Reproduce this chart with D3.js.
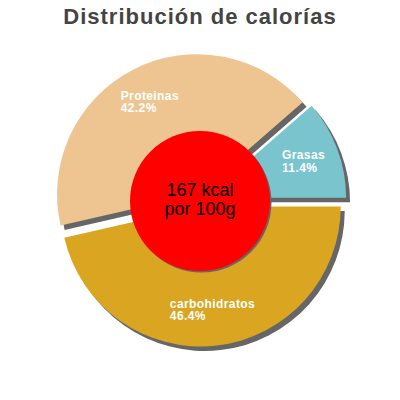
<!DOCTYPE html>
<html>
<head>
<meta charset="utf-8">
<script src="https://cdn.jsdelivr.net/npm/d3@7"></script>
<style>
    body { margin: 0; background: #fff; }
    svg { display: block; }
    text { font-family: "Liberation Sans", Arial, sans-serif; }
</style>
</head>
<body>
<svg id="chart" width="400" height="400"></svg>
<script>
// calorie split
var categories = ["carbohidratos", "Proteinas", "Grasas"];
var percents = [46.4, 42.2, 11.4];
var colors = ["#daa520", "#eec591", "#7ac5cd"];
var totalKcal = 167;
var title = "Distribución de calorías";

var svg = d3.select("#chart");
var cx = 200, cy = 200, radius = 140;
var explode = 6.5;

svg.append("text")
    .attr("x", 200)
    .attr("y", 24)
    .attr("text-anchor", "middle")
    .style("font-size", "22px")
    .style("font-weight", "bold")
    .style("letter-spacing", "1px")
    .style("fill", "#444")
    .text(title);

var slices = categories.map(function (c, i) {
    return { name: c, value: percents[i], color: colors[i] };
});

// starts at 3 o'clock and goes clockwise, like the original
var pie = d3.pie()
    .sort(null)
    .value(function (d) { return d.value; })
    .startAngle(Math.PI / 2)
    .endAngle(Math.PI / 2 + 2 * Math.PI);

var arc = d3.arc().innerRadius(0).outerRadius(radius);
var labelArc = d3.arc().innerRadius(104).outerRadius(104);

var arcs = pie(slices);

function offset(d) {
    let a = (d.startAngle + d.endAngle) / 2;
    return [cx + explode * Math.sin(a), cy - explode * Math.cos(a)];
}

var g = svg.append("g");

// shadows go under every slice
g.selectAll("path.shadow")
    .data(arcs)
    .enter().append("path")
    .attr("class", "shadow")
    .attr("d", arc)
    .attr("transform", function (d) {
        let p = offset(d);
        return "translate(" + (p[0] + 4) + "," + (p[1] + 4.5) + ")";
    })
    .style("fill", "#666");

g.selectAll("path.slice")
    .data(arcs)
    .enter().append("path")
    .attr("class", "slice")
    .attr("d", arc)
    .attr("transform", function (d) {
        let p = offset(d);
        return "translate(" + p[0] + "," + p[1] + ")";
    })
    .style("fill", function (d) { return d.data.color; });

// labels: two left-aligned lines, block centred on the centroid
arcs.forEach(function (d) {
    let p = offset(d);
    let c = labelArc.centroid(d);
    let lbl = g.append("text")
        .attr("transform", "translate(" + (p[0] + c[0]) + "," + (p[1] + c[1]) + ")")
        .style("font-size", "12px")
        .style("font-weight", "bold")
        .style("letter-spacing", "0.4px")
        .style("fill", "#fff");
    lbl.append("tspan").attr("x", 0).attr("y", -2).text(d.data.name);
    lbl.append("tspan").attr("x", 0).attr("y", 10.5).text(d.data.value.toFixed(1) + "%");
    let w = lbl.node().getBBox().width;
    lbl.selectAll("tspan").attr("x", -w / 2);
});

// centre disc
svg.append("circle")
    .attr("cx", cx + 1.5)
    .attr("cy", cy + 2.5)
    .attr("r", 70)
    .style("fill", "#666");
svg.append("circle")
    .attr("cx", cx)
    .attr("cy", cy + 1)
    .attr("r", 70)
    .style("fill", "#ff0000");

var center = svg.append("text")
    .attr("text-anchor", "middle")
    .style("font-size", "18px")
    .style("fill", "#000");
center.append("tspan").attr("x", cx).attr("y", 195.5).text(totalKcal + " kcal");
center.append("tspan").attr("x", cx).attr("y", 214.5).text("por 100g");
</script>
</body>
</html>
